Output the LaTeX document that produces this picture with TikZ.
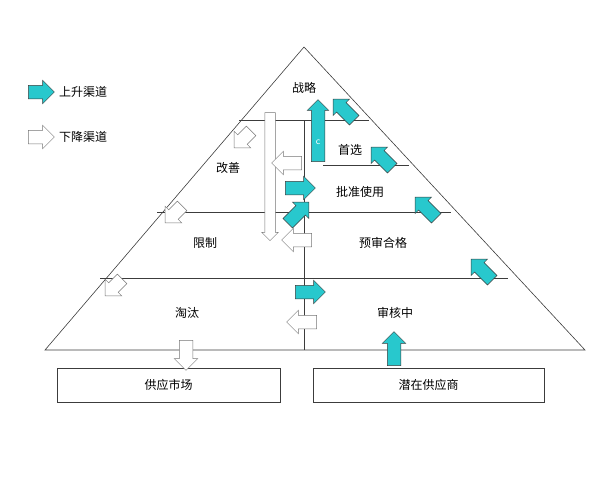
\documentclass[tikz,border=0pt]{standalone}
\usepackage{fontspec}
\newfontfamily\cjk{Noto Sans CJK SC}
\usetikzlibrary{shapes.arrows}
\definecolor{teal1}{RGB}{40,200,205}
\definecolor{ln}{RGB}{60,60,60}
\begin{document}
\begin{tikzpicture}[x=1pt,y=-1pt,font=\cjk\fontsize{12}{14}\selectfont,
  arr/.style={single arrow,inner xsep=0pt,inner ysep=6.5pt,single arrow head extend=5pt,minimum height=30pt,line width=0.5pt},
  up/.style={arr,draw=ln,fill=teal1},
  dn/.style={arr,draw=ln!70,fill=white},
  lbl/.style={inner sep=1pt},
  box/.style={draw=ln,line width=0.6pt,minimum height=34pt}]
\useasboundingbox (0,0) rectangle (600,480);
\coordinate (A) at (304,47);
\coordinate (L) at (45,350);
\coordinate (R) at (585,350);
\draw[ln,line width=0.6pt] (A)--(L)--(R)--cycle;
\draw[ln,line width=0.6pt] (239,120)--(369,120);
\draw[ln,line width=0.6pt] (323,165)--(409,165);
\draw[ln,line width=0.6pt] (157,212)--(451,212);
\draw[ln,line width=0.6pt] (100,278)--(508,278);
\draw[ln,line width=0.6pt] (304,120)--(304,350);
% texts
\node[lbl] (t1) at (304,88) {战略};
\node[lbl] (t2) at (350,150) {首选};
\node[lbl] (t3) at (228,168) {改善};
\node[lbl] (t4) at (360,192) {批准使用};
\node[lbl] (t5) at (205,243) {限制};
\node[lbl] (t6) at (383,243) {预审合格};
\node[lbl] (t7) at (187,313) {淘汰};
\node[lbl] (t8) at (395,313) {审核中};
\node[box,minimum width=223pt] (b1) at (168.5,385) {供应市场};
\node[box,minimum width=231pt] (b2) at (428.5,385) {潜在供应商};
% legend
\node[up,minimum height=26pt] (la) at (38,92) {};
\node[dn,minimum height=26pt] (lb) at (38,137) {};
\node[lbl,anchor=west] (lt1) at (58,92) {上升渠道};
\node[lbl,anchor=west] (lt2) at (58,137) {下降渠道};
% long arrows
\node[dn,rotate=-90,minimum height=128pt,inner ysep=5pt,single arrow head extend=3pt] (ld) at (270,174) {};
\node[up,rotate=90,minimum height=62pt,inner ysep=6.5pt,single arrow head extend=4pt] (lu) at (318,134) {};
\node[text=white,font=\sffamily] (c) at (318,142) {c};
% teal arrows
\node[up,rotate=135] (u1) at (346,112) {};
\node[up,rotate=135] (u2) at (384,160) {};
\node[up,rotate=135] (u3) at (428,210) {};
\node[up,rotate=135] (u4) at (484,272) {};
\node[up] (u5) at (297,188) {};
\node[up,rotate=45] (u6) at (296,215) {};
\node[up] (u7) at (307,292) {};
\node[up,rotate=90,minimum height=34pt] (u8) at (394,352) {};
% white arrows
\node[dn,rotate=225,minimum height=24pt] (d1) at (245,137) {};
\node[dn,rotate=225,minimum height=24pt] (d2) at (176,212) {};
\node[dn,rotate=225,minimum height=24pt] (d3) at (116,285) {};
\node[dn,rotate=180] (d4) at (290,163) {};
\node[dn,rotate=180] (d5) at (300,240) {};
\node[dn,rotate=180] (d6) at (305,322) {};
\node[dn,rotate=-90,minimum height=30pt] (d7) at (186,352) {};
\end{tikzpicture}
\end{document}
